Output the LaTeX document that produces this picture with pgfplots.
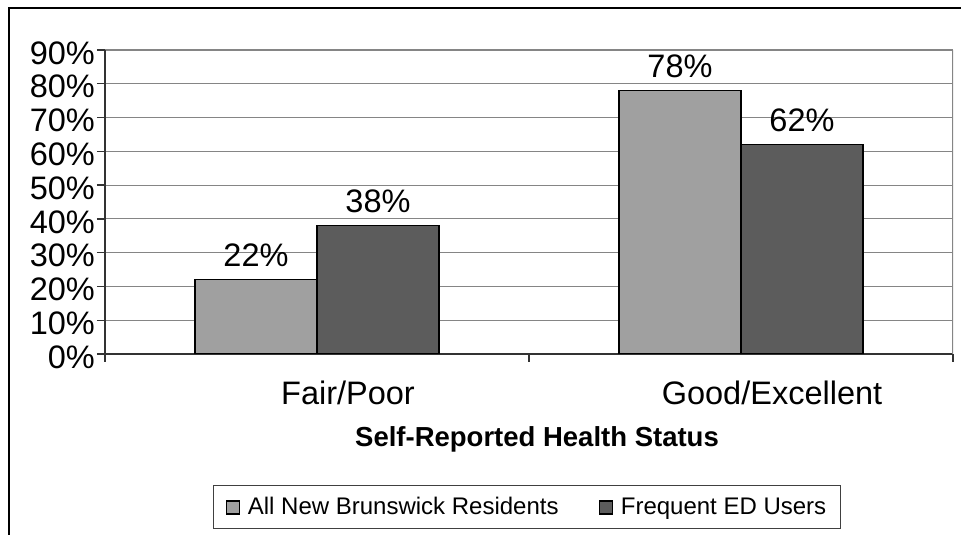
\documentclass[border=0pt]{standalone}
\usepackage{fontspec}
\setmainfont{Liberation Sans}
\usepackage{pgfplots}
\pgfplotsset{compat=1.18}
\definecolor{barlight}{HTML}{A0A0A0}
\definecolor{bardark}{HTML}{5C5C5C}
\definecolor{gridgray}{HTML}{858585}
\definecolor{axisdark}{HTML}{333333}
\pgfplotsset{/pgfplots/ybar legend/.style={/pgfplots/legend image code/.code={%
  \draw[##1, draw=black, line width=1.2pt] (0pt,-7pt) rectangle (13pt,6pt);}}}
\begin{document}
\begin{tikzpicture}
\useasboundingbox (0,0) rectangle (961pt,535pt);
\draw[line width=2.5pt] (9pt,-5pt) -- (9pt,527pt) -- (970pt,527pt);
\begin{axis}[
  at={(105pt,181pt)}, anchor=south west,
  width=848pt, height=304pt, scale only axis,
  ybar=0pt, bar width=122pt,
  xmin=-0.5, xmax=1.5, ymin=0, ymax=90,
  axis x line*=bottom, axis y line*=left,
  axis line style={axisdark, line width=1.3pt},
  tick align=outside, major tick length=8pt,
  tick style={axisdark, line width=1.3pt},
  xtick={-0.5,0.5,1.5}, xticklabels={},
  extra x ticks={0,1}, extra x tick labels={Fair/Poor,Good/Excellent},
  extra x tick style={major tick length=0pt, grid=none,
    xticklabel style={anchor=base, yshift=-51pt, xshift=31pt, inner sep=0pt, font=\fontsize{32.5}{32.5}\selectfont}},
  ytick={0,10,...,90},
  yticklabels={0\%,10\%,20\%,30\%,40\%,50\%,60\%,70\%,80\%,90\%},
  yticklabel style={font=\fontsize{32.5}{32.5}\selectfont, inner sep=0pt, anchor=east, xshift=-2pt, yshift=-3pt},
  ymajorgrids, grid style={gridgray, line width=1.2pt},
  xlabel={\textbf{Self-Reported Health Status}},
  xlabel style={at={(rel axis cs:0.5,0)}, anchor=base, yshift=-92pt, xshift=8pt, inner sep=0pt, font=\fontsize{27.5}{27.5}\selectfont},
  /pgf/number format/assume math mode=true,
  nodes near coords={\pgfmathprintnumber{\pgfplotspointmeta}\%},
  nodes near coords style={font=\fontsize{32.5}{32.5}\selectfont, anchor=base, inner sep=0pt, yshift=13.5pt, black},
  legend columns=2,
  legend style={at={(0.4976,-0.431)}, anchor=north, draw=black!75, line width=1pt,
    font=\fontsize{24}{24}\selectfont, inner xsep=12pt, inner ysep=10pt,
    /tikz/every odd column/.append style={column sep=6pt},
    /tikz/every even column/.append style={column sep=38pt}},
]
\addplot[fill=barlight, draw=black, line width=1.3pt] coordinates {(0,22) (1,78)};
\addplot[fill=bardark, draw=black, line width=1.3pt] coordinates {(0,38) (1,62)};
\legend{All New Brunswick Residents, Frequent ED Users}
\draw[gridgray, line width=1.2pt] (rel axis cs:1,0) -- (rel axis cs:1,1);
\end{axis}
\end{tikzpicture}
\end{document}
